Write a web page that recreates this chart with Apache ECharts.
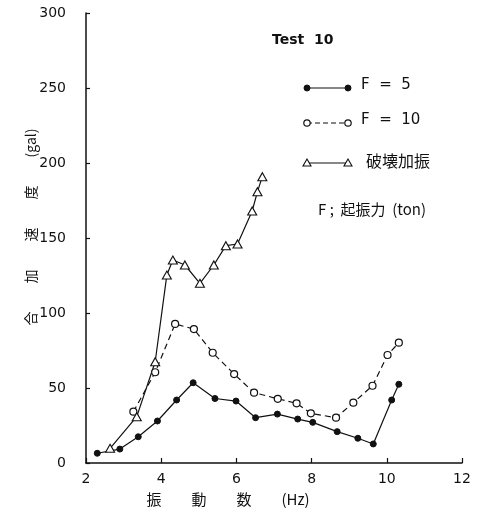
<!DOCTYPE html>
<html>
<head>
<meta charset="utf-8">
<script src="https://cdn.jsdelivr.net/npm/echarts@6/dist/echarts.min.js"></script>
<style>html,body{margin:0;padding:0;background:#fff;}#c{width:477px;height:523px;}</style>
</head>
<body>
<div id="c"></div>
<script>
// Data
var freqF5 = [2.3, 2.9, 3.39, 3.9, 4.41, 4.85, 5.43, 5.99, 6.51, 7.09, 7.63, 8.03, 8.68, 9.23, 9.64, 10.13, 10.32];
var accF5  = [6.5, 9.3, 17.5, 28, 42, 53.5, 43, 41.3, 30.2, 32.6, 29.3, 27.1, 20.9, 16.5, 12.7, 42, 52.5];

var freqF10 = [3.26, 3.84, 4.37, 4.87, 5.37, 5.94, 6.47, 7.1, 7.6, 7.98, 8.65, 9.11, 9.62, 10.02, 10.32];
var accF10  = [34.2, 60.5, 92.7, 89.3, 73.5, 59.3, 46.9, 42.8, 39.8, 33.1, 30.2, 40.2, 51.5, 72, 80.2];

var freqBreak = [2.64, 3.35, 3.84, 4.15, 4.31, 4.63, 5.03, 5.40, 5.72, 6.03, 6.42, 6.56, 6.69];
var accBreak  = [9.8, 30.9, 67.5, 125.3, 135.3, 132, 119.8, 132, 144.9, 146, 168, 180.9, 190.9];

var seriesNames = ['F  =  5', 'F  =  10', '破壊加振'];
var xTitle = '振　　動　　数　　(Hz)';
var yTitle = '合　　加　　速　　度　　(gal)';
var testLabel = 'Test  10';
var noteLabel = 'F ;  起振力  (ton)';

function pairs(xs, ys) { return xs.map(function (x, i) { return [x, ys[i]]; }); }

var INK = '#111';
var FONT = '"DejaVu Sans", "Noto Sans CJK JP", sans-serif';
var CJK = '"Noto Sans CJK JP", "DejaVu Sans", sans-serif';

var chart = echarts.init(document.getElementById('c'));

function legendRow(y, name, kind) {
  var x1 = 307, x2 = 348;
  var items = [];
  items.push({ type: 'line', shape: { x1: x1, y1: y, x2: x2, y2: y },
    style: { stroke: INK, lineWidth: 1.2, lineDash: kind === 'open' ? [5, 3] : null } });
  [x1, x2].forEach(function (cx) {
    if (kind === 'filled') {
      items.push({ type: 'circle', shape: { cx: cx, cy: y, r: 3 }, style: { fill: INK, stroke: INK } });
    } else if (kind === 'open') {
      items.push({ type: 'circle', shape: { cx: cx, cy: y, r: 3.2 }, style: { fill: '#fff', stroke: INK, lineWidth: 1.2 } });
    } else {
      items.push({ type: 'polygon', shape: { points: [[cx, y - 4], [cx - 4, y + 3], [cx + 4, y + 3]] },
        style: { fill: '#fff', stroke: INK, lineWidth: 1.1 } });
    }
  });
  items.push({ type: 'text', left: kind === 'tri' ? 366 : 361, top: y - 10,
    style: { text: name, fill: INK, font: (kind === 'tri' ? '16px ' + CJK : '15px ' + FONT) } });
  return items;
}

var graphics = [
  { type: 'text', left: 272, top: 33, style: { text: testLabel, fill: INK, font: 'bold 14px ' + FONT } },
  { type: 'text', left: 318, top: 202, style: { text: noteLabel, fill: INK, font: '15px ' + CJK } }
].concat(legendRow(88, seriesNames[0], 'filled'))
 .concat(legendRow(123, seriesNames[1], 'open'))
 .concat(legendRow(163, seriesNames[2], 'tri'));

var option = {
  backgroundColor: '#fff',
  animation: false,
  grid: { left: 86, right: 15, top: 13, bottom: 60, containLabel: false },
  xAxis: {
    type: 'value', min: 2, max: 12, interval: 2,
    name: xTitle, nameLocation: 'middle', nameGap: 29,
    nameTextStyle: { color: INK, fontSize: 15, fontFamily: CJK, padding: [0, 92, 0, 0] },
    axisLine: { show: true, lineStyle: { color: INK, width: 1.5 } },
    axisTick: { show: true, inside: true, length: 5, lineStyle: { color: INK, width: 1.2 } },
    axisLabel: { color: INK, fontSize: 14, fontFamily: FONT, margin: 9 },
    splitLine: { show: false }
  },
  yAxis: {
    type: 'value', min: 0, max: 300, interval: 50,
    name: yTitle, nameLocation: 'middle', nameRotate: 90, nameGap: 48,
    nameMoveOverlap: false,
    nameTextStyle: { color: INK, fontSize: 14, fontFamily: CJK, padding: [0, 0, 0, 22] },
    axisLine: { show: true, lineStyle: { color: INK, width: 1.5 } },
    axisTick: { show: true, inside: true, length: 4, lineStyle: { color: INK, width: 1.2 } },
    axisLabel: { color: INK, fontSize: 14, fontFamily: FONT, margin: 20 },
    splitLine: { show: false }
  },
  series: [
    {
      name: seriesNames[0], type: 'line', data: pairs(freqF5, accF5),
      symbol: 'circle', symbolSize: 6,
      lineStyle: { color: INK, width: 1.2 },
      itemStyle: { color: INK, borderColor: INK, borderWidth: 1 }
    },
    {
      name: seriesNames[1], type: 'line', data: pairs(freqF10, accF10),
      symbol: 'circle', symbolSize: 7,
      lineStyle: { color: INK, width: 1.2, type: [6, 4] },
      itemStyle: { color: '#fff', borderColor: INK, borderWidth: 1.2 }
    },
    {
      name: seriesNames[2], type: 'line', data: pairs(freqBreak, accBreak),
      symbol: 'triangle', symbolSize: [9, 8],
      lineStyle: { color: INK, width: 1.2 },
      itemStyle: { color: '#fff', borderColor: INK, borderWidth: 1.1 }
    }
  ],
  graphic: graphics
};
chart.setOption(option);
</script>
</body>
</html>
